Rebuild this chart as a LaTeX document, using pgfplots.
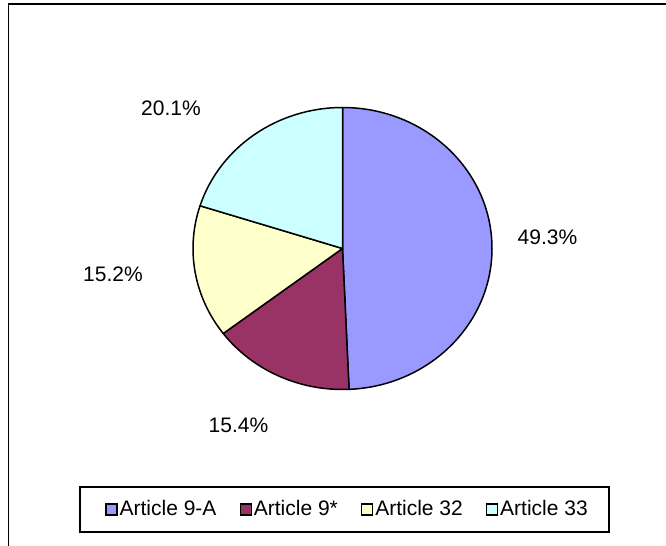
\documentclass[border=0pt]{standalone}
\usepackage{pgfplots}
\pgfplotsset{compat=1.18}
\usepackage{pgfplotstable}
\usepackage{fontspec}
\setmainfont{Liberation Sans}
\definecolor{cA}{HTML}{9999FF}
\definecolor{cB}{HTML}{993366}
\definecolor{cC}{HTML}{FFFFCC}
\definecolor{cD}{HTML}{CCFFFF}
\newcommand\lblfont{\fontsize{10.5}{12.6}\selectfont}
\pgfplotstableread[col sep=comma]{
name,value,col,lx,ly
Article 9-A,49.3,cA,547.5,237
Article 9*,15.4,cB,238.5,425
Article 32,15.2,cC,113,274
Article 33,20.1,cD,171,108
}\piedata
\pgfplotsset{sqleg/.style={legend image code/.code={\draw[##1,draw=black,line width=0.6pt] (0pt,-2.75pt) rectangle (5.5pt,2.75pt);}}}
\begin{document}
\begin{tikzpicture}
\begin{axis}[
  scale only axis, width=333pt, height=273pt,
  xmin=0, xmax=666, ymin=0, ymax=546, y dir=reverse,
  hide axis, clip=false,
  legend columns=4,
  legend style={at={(axis cs:105,509.5)}, anchor=west, draw=none, fill=none,
    font=\lblfont, inner sep=0pt, nodes={inner sep=1pt},
    /tikz/every even column/.append style={column sep=10.6pt}},
]
\def\cum{0}
\pgfplotsforeachungrouped \i in {0,...,3}{%
  \pgfplotstablegetelem{\i}{value}\of\piedata \let\v\pgfplotsretval
  \pgfplotstablegetelem{\i}{col}\of\piedata \let\colname\pgfplotsretval
  \pgfplotstablegetelem{\i}{lx}\of\piedata \let\lx\pgfplotsretval
  \pgfplotstablegetelem{\i}{ly}\of\piedata \let\ly\pgfplotsretval
  \pgfmathsetmacro\sa{90-3.6*\cum}%
  \pgfmathsetmacro\ea{\sa-3.6*\v}%
  \pgfmathsetmacro\cum{\cum+\v}%
  \edef\cmd{\noexpand\filldraw[fill=\colname,draw=black,line width=0.75pt,line join=round] (axis cs:342.5,248.5) -- ++(\sa:74.75pt and 70.5pt) arc[start angle=\sa,end angle=\ea,x radius=74.75pt,y radius=70.5pt] -- cycle;}%
  \cmd
  \edef\cmd{\noexpand\node[font=\noexpand\lblfont] at (axis cs:\lx,\ly) {\v\noexpand\%};}%
  \cmd
}
\addlegendimage{sqleg, fill=cA}\addlegendentry{Article 9-A}
\addlegendimage{sqleg, fill=cB}\addlegendentry{Article 9*}
\addlegendimage{sqleg, fill=cC}\addlegendentry{Article 32}
\addlegendimage{sqleg, fill=cD}\addlegendentry{Article 33}
\draw[line width=0.75pt] (axis cs:80,487) rectangle (axis cs:609,532);
\draw[line width=0.7pt] (axis cs:8.5,546) -- (axis cs:8.5,4) -- (axis cs:666,4);
\end{axis}
\pgfresetboundingbox
\useasboundingbox (current axis.south west) rectangle (current axis.north east);
\end{tikzpicture}
\end{document}
